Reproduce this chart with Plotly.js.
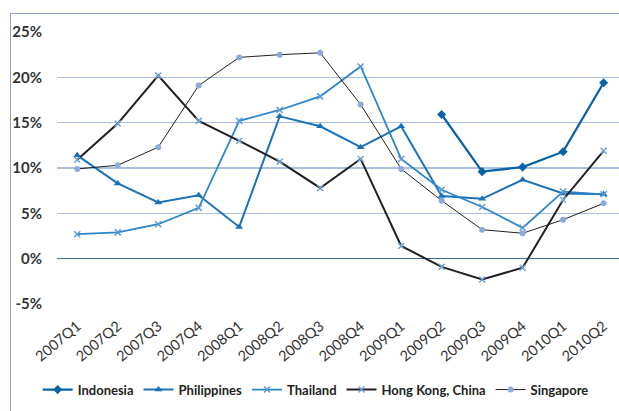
<!DOCTYPE html>
<html>
<head>
<meta charset="utf-8">
<script src="https://cdn.plot.ly/plotly-3.0.1.min.js"></script>
<style>
    body { margin: 0; padding: 0; background: #fff; }
    #wrap { position: relative; width: 619px; height: 411px; }
    #frame { position: absolute; left: 10px; top: 13px; width: 620px; height: 410px; border: 1px solid #8fa8c8; }
    #chart { position: absolute; left: 0; top: 0; width: 619px; height: 411px; }
</style>
</head>
<body>
<div id="wrap">
    <div id="frame"></div>
    <div id="chart"></div>
</div>
<script>
    // quarterly values in %
    let quarters = ['2007Q1', '2007Q2', '2007Q3', '2007Q4', '2008Q1', '2008Q2', '2008Q3',
        '2008Q4', '2009Q1', '2009Q2', '2009Q3', '2009Q4', '2010Q1', '2010Q2'];

    let indonesia = [null, null, null, null, null, null, null, null, null, 15.9, 9.6, 10.1, 11.8, 19.4];
    let philippines = [11.4, 8.3, 6.2, 7.0, 3.5, 15.7, 14.6, 12.3, 14.6, 6.9, 6.6, 8.7, 7.2, 7.1];
    let thailand = [2.7, 2.9, 3.8, 5.6, 15.2, 16.4, 17.9, 21.2, 11.0, 7.6, 5.7, 3.4, 7.4, 7.1];
    let hongKong = [10.9, 14.9, 20.2, 15.2, 13.0, 10.7, 7.8, 11.0, 1.4, -0.9, -2.3, -1.0, 6.5, 11.9];
    let singapore = [9.9, 10.3, 12.3, 19.1, 22.2, 22.5, 22.7, 17.0, 9.9, 6.4, 3.2, 2.8, 4.3, 6.1];

    let yTicks = [-5, 0, 5, 10, 15, 20, 25];

    function pct(arr) {
        return arr.map(function(v) { return v === null ? null : v / 100; });
    }

    let data = [
        {
            name: 'Indonesia', x: quarters, y: pct(indonesia), mode: 'lines+markers',
            line: { color: '#0a62a6', width: 2.25 },
            marker: { symbol: 'diamond', size: 7, color: '#0a62a6' }
        },
        {
            name: 'Philippines', x: quarters, y: pct(philippines), mode: 'lines+markers',
            line: { color: '#1a72b8', width: 2 },
            marker: { symbol: 'triangle-up', size: 7, color: '#1a72b8' }
        },
        {
            name: 'Thailand', x: quarters, y: pct(thailand), mode: 'lines+markers',
            line: { color: '#2a86cc', width: 1.75 },
            marker: { symbol: 'x-thin', size: 6, line: { width: 1.5, color: '#5d9ad6' } }
        },
        {
            name: 'Hong Kong, China', x: quarters, y: pct(hongKong), mode: 'lines+markers',
            line: { color: '#231f20', width: 2 },
            marker: { symbol: 'x-thin', size: 6, line: { width: 1.5, color: '#6fa3dc' } }
        },
        {
            name: 'Singapore', x: quarters, y: pct(singapore), mode: 'lines+markers',
            line: { color: '#231f20', width: 1 },
            marker: { symbol: 'circle', size: 6, color: '#8eaadb' }
        }
    ];

    let layout = {
        width: 619,
        height: 411,
        margin: { l: 57, r: 0, t: 32, b: 107 },
        paper_bgcolor: 'rgba(0,0,0,0)',
        plot_bgcolor: 'rgba(0,0,0,0)',
        font: { family: 'Lato, "Open Sans", sans-serif', color: '#333' },
        showlegend: true,
        legend: {
            orientation: 'h',
            x: 0.51, xref: 'container', xanchor: 'center',
            y: 0.052, yref: 'container', yanchor: 'middle',
            font: { size: 13, color: '#222', family: 'Lato, sans-serif', weight: 'bold' },
            itemwidth: 30,
            tracegroupgap: 0
        },
        xaxis: {
            type: 'category',
            range: [-0.5, 13.38],
            automargin: false,
            tickangle: -40,
            tickfont: { size: 14.5, color: '#333', family: 'Lato, sans-serif' },
            ticklabelstandoff: 10,
            showgrid: false,
            zeroline: false,
            showline: false,
            ticks: ''
        },
        yaxis: {
            range: [-0.05, 0.25],
            automargin: false,
            tickvals: yTicks.map(function(v) { return v / 100; }),
            ticktext: yTicks.map(function(v) { return v + '%'; }),
            tickfont: { size: 15, color: '#333', weight: 'bold' },
            ticklabelstandoff: 14,
            gridcolor: '#a9c0de',
            gridwidth: 1.5,
            zeroline: true,
            zerolinecolor: '#3d6d9c',
            zerolinewidth: 1.5,
            showline: false,
            ticks: ''
        }
    };

    Plotly.newPlot('chart', data, layout, { displayModeBar: false, staticPlot: true });
</script>
</body>
</html>
